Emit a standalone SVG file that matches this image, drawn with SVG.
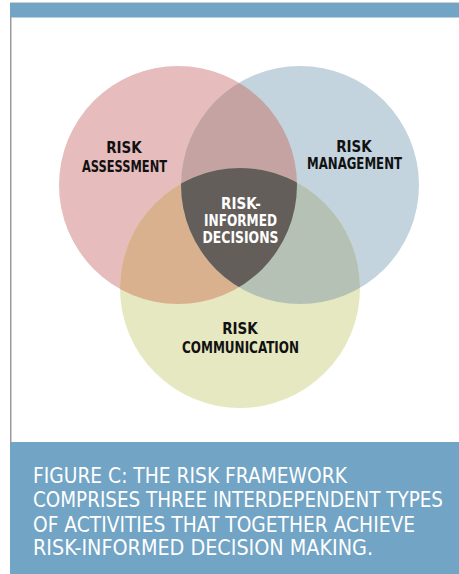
<svg xmlns="http://www.w3.org/2000/svg" width="459" height="574" viewBox="0 0 459 574">
<style>
.lbl{font-family:"DejaVu Sans","Liberation Sans",sans-serif;font-stretch:condensed;font-weight:bold;font-size:15px;fill:#111;text-anchor:middle}
.lblw{fill:#ffffff}
.cap{font-family:"DejaVu Sans","Liberation Sans",sans-serif;font-stretch:condensed;font-size:21px;fill:#ffffff}
</style>
<defs>
<clipPath id="cR"><circle cx="178" cy="185" r="119"/></clipPath>
<clipPath id="cB"><circle cx="300" cy="185" r="119"/></clipPath>
<clipPath id="cY"><circle cx="240" cy="288" r="120"/></clipPath>
</defs>
<rect x="0" y="0" width="459" height="574" fill="#ffffff"/>
<rect x="10" y="2" width="449" height="1" fill="#d0d0d0"/>
<rect x="10" y="3" width="449" height="14.5" fill="#72a4c5"/>
<rect x="10" y="17" width="1.5" height="425" fill="#9a9a9a"/>
<rect x="10" y="442" width="449" height="132" fill="#72a4c5"/>

<g id="risk-assessment">
<circle cx="178" cy="185" r="119" fill="#e6bcbd"/>
</g>
<g id="risk-management">
<circle cx="300" cy="185" r="119" fill="#c3d4df"/>
</g>
<g id="risk-communication">
<circle cx="240" cy="288" r="120" fill="#e6e8c1"/>
</g>
<g id="overlaps">
<g clip-path="url(#cR)"><circle cx="300" cy="185" r="119" fill="#c4a3a2"/></g>
<g clip-path="url(#cR)"><circle cx="240" cy="288" r="120" fill="#d9b18f"/></g>
<g clip-path="url(#cB)"><circle cx="240" cy="288" r="120" fill="#b5c1b5"/></g>
</g>
<g id="risk-informed-decisions">
<g clip-path="url(#cR)"><g clip-path="url(#cB)"><circle cx="240" cy="288" r="120" fill="#645e5a"/></g></g>
<text class="lbl lblw" x="241" y="209">RISK-</text>
<text class="lbl lblw" x="240.5" y="226" textLength="73" lengthAdjust="spacingAndGlyphs">INFORMED</text>
<text class="lbl lblw" x="240.5" y="243" textLength="76" lengthAdjust="spacingAndGlyphs">DECISIONS</text>
</g>
<g id="labels">
<text class="lbl" x="124" y="153">RISK</text>
<text class="lbl" x="124.5" y="172" textLength="85" lengthAdjust="spacingAndGlyphs">ASSESSMENT</text>
<text class="lbl" x="354" y="152">RISK</text>
<text class="lbl" x="354.5" y="169" textLength="95" lengthAdjust="spacingAndGlyphs">MANAGEMENT</text>
<text class="lbl" x="240" y="334">RISK</text>
<text class="lbl" x="240.5" y="353" textLength="117" lengthAdjust="spacingAndGlyphs">COMMUNICATION</text>
</g>
<g id="connectors"/>
<g id="caption">
<text class="cap" x="33" y="483" textLength="314" lengthAdjust="spacingAndGlyphs">FIGURE C: THE RISK FRAMEWORK</text>
<text class="cap" x="33" y="507" textLength="410" lengthAdjust="spacingAndGlyphs">COMPRISES THREE INTERDEPENDENT TYPES</text>
<text class="cap" x="33" y="532" textLength="382" lengthAdjust="spacingAndGlyphs">OF ACTIVITIES THAT TOGETHER ACHIEVE</text>
<text class="cap" x="33" y="555" textLength="340" lengthAdjust="spacingAndGlyphs">RISK-INFORMED DECISION MAKING.</text>
</g>
</svg>
